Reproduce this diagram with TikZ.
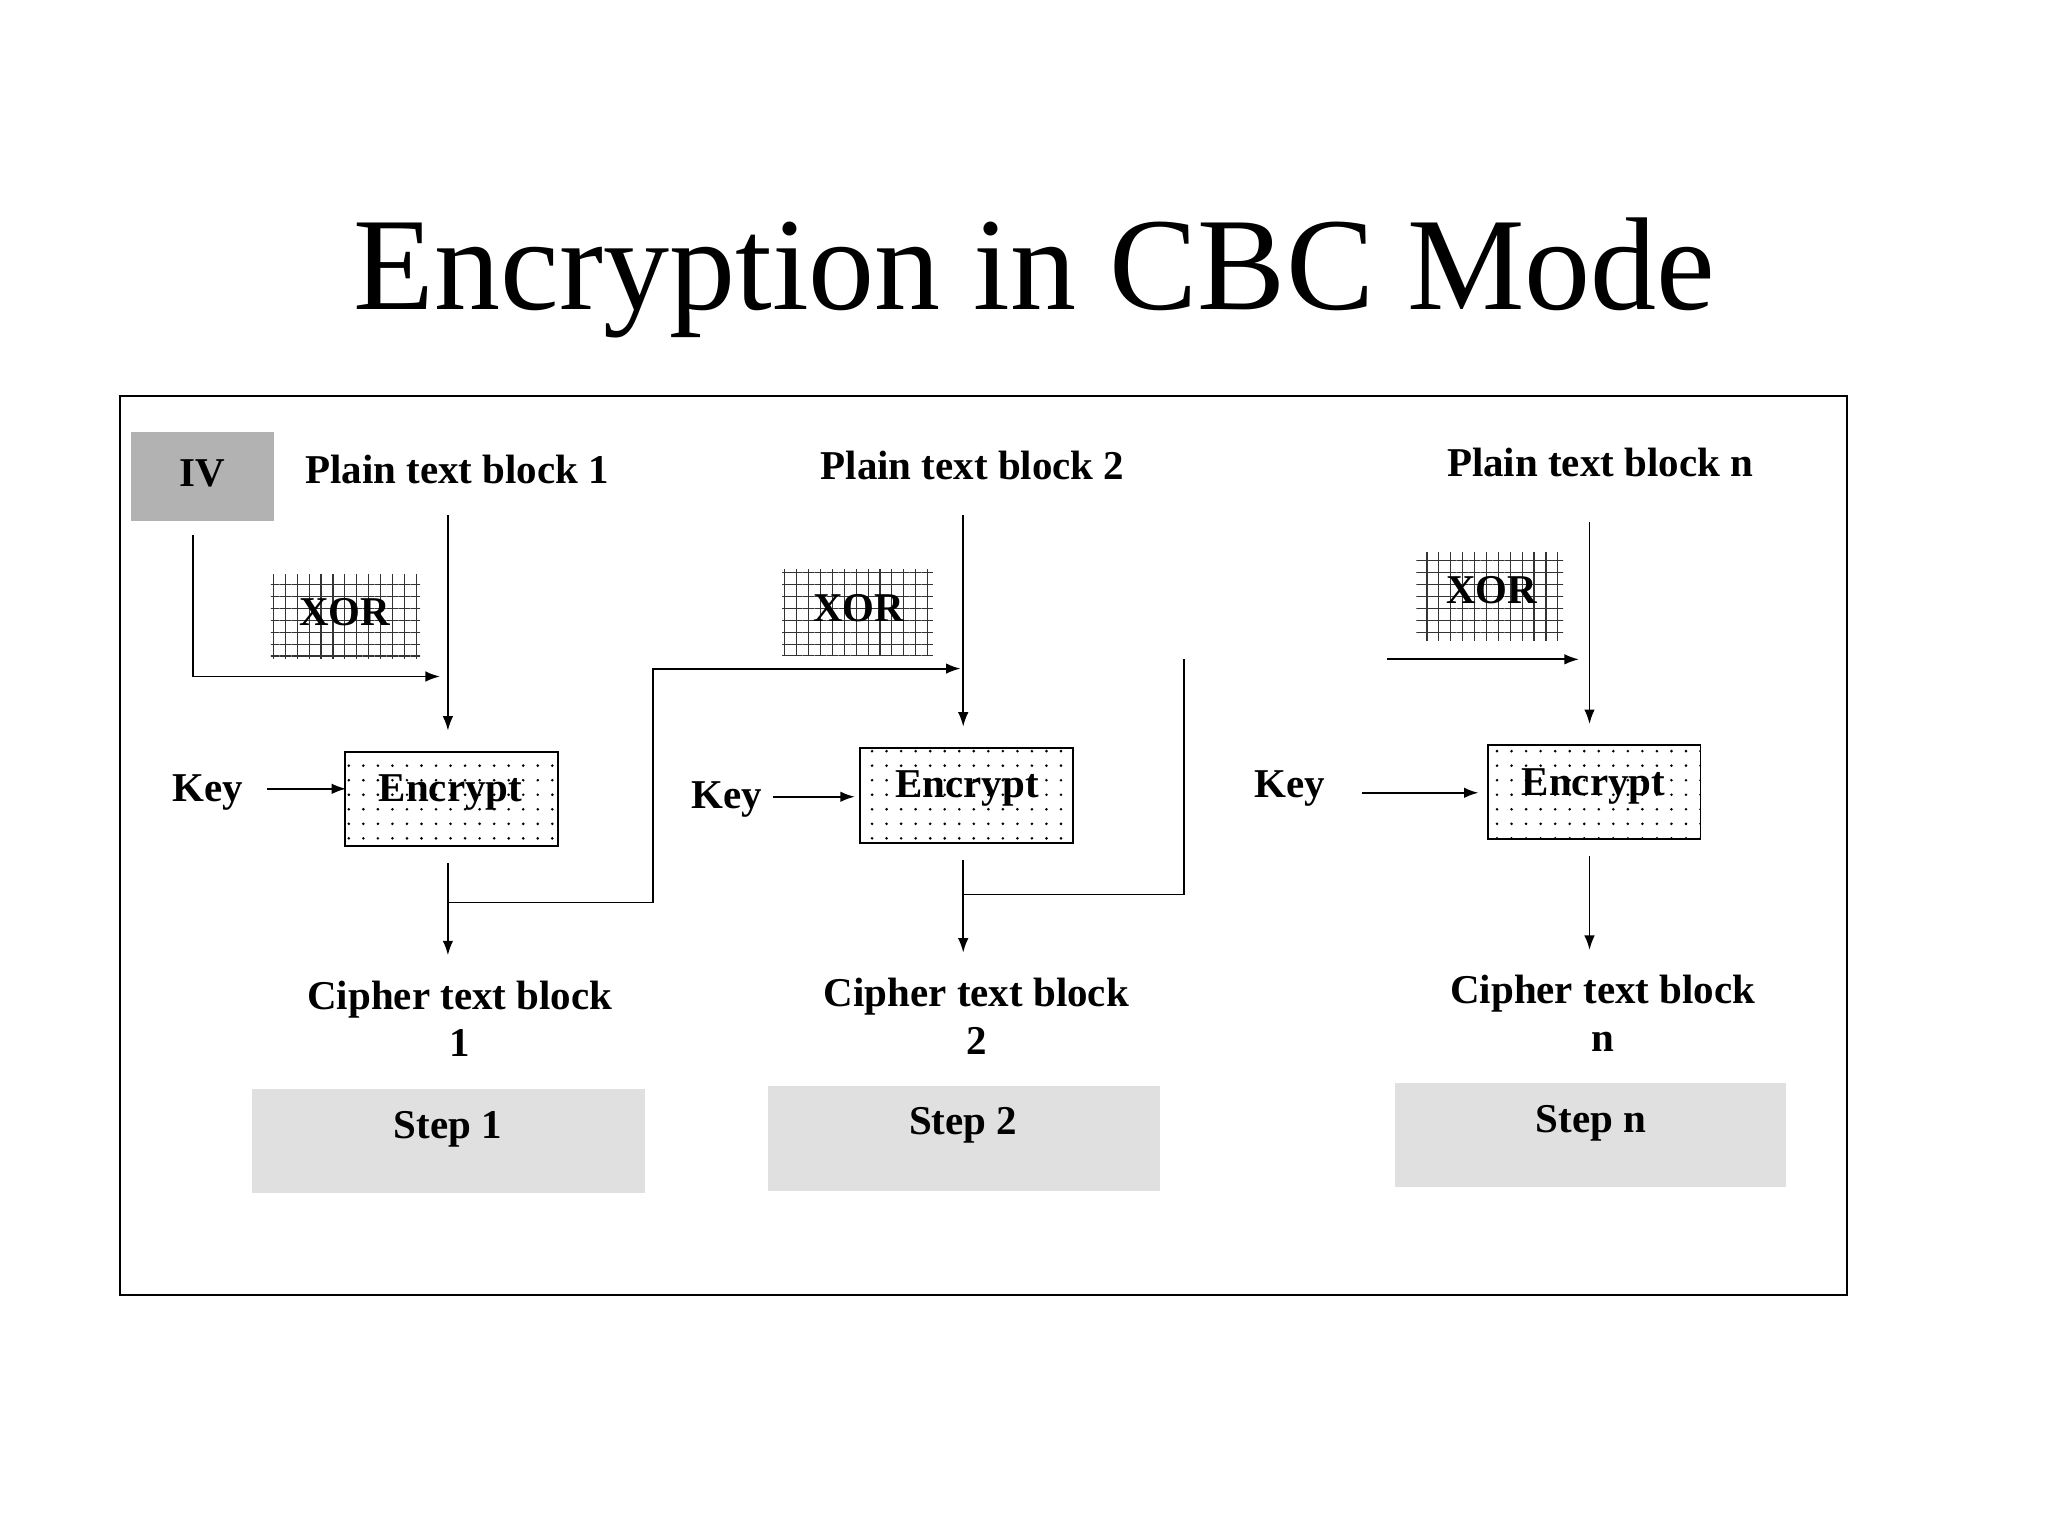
\documentclass[tikz,border=0pt]{standalone}
\usepackage{fontspec}
\setmainfont{Liberation Serif}
\usetikzlibrary{patterns.meta,arrows.meta}
\begin{document}
\begin{tikzpicture}[x=1pt,y=-1pt,
  lbl/.style={font=\fontsize{31}{36}\selectfont\bfseries,align=center},
  arr/.style={-{Latex[length=11pt,width=8pt]},line width=1.4pt},
  ln/.style={line width=1.4pt},
  xorbox/.style={draw=none,pattern={Hatch[distance=9pt,angle=0,line width=0.9pt]},pattern color=black!80},
  encbox/.style={draw,line width=1.4pt,postaction={pattern={Dots[distance=11pt,radius=1.1pt]}}},
  stepbox/.style={fill=black!12}]
\useasboundingbox (0,0) rectangle (1550,1162.5);
\node[font=\fontsize{100}{110}\selectfont] (title) at (783,210) {Encryption in CBC Mode};
\draw[line width=1.4pt] (91,300) rectangle (1398,980);
% step 1
\fill[black!30] (99,327) rectangle (207,394);
\node[lbl] (iv) at (153,358) {IV};
\node[lbl] (p1) at (346,355) {Plain text block 1};
\fill[xorbox] (205,435) rectangle (318,498);
\node[lbl] (x1) at (261,463) {XOR};
\draw[encbox] (261,569) rectangle (422,640);
\node[lbl] (e1) at (341,600) {Encrypt};
\node[lbl] (k1) at (157,600) {Key};
\coordinate (iva) at (146,405); \coordinate (ivb) at (146,512); \coordinate (ivc) at (333,512);
\draw[arr] (iva) -- (ivb) -- (ivc);
\coordinate (p1a) at (339,390); \coordinate (p1b) at (339,553);
\draw[arr] (p1a) -- (p1b);
\coordinate (k1a) at (202,597); \coordinate (k1b) at (262,597);
\draw[arr] (k1a) -- (k1b);
\coordinate (o1a) at (339,653); \coordinate (o1b) at (339,723);
\draw[arr] (o1a) -- (o1b);
\coordinate (b1a) at (339,683); \coordinate (b1b) at (494,683); \coordinate (b1c) at (494,506); \coordinate (b1d) at (727,506);
\draw[arr] (b1a) -- (b1b) -- (b1c) -- (b1d);
\node[lbl] (c1) at (348,771) {Cipher text block\\1};
\fill[stepbox] (191,824) rectangle (488,903);
\node[lbl] (s1) at (339,855) {Step 1};
% step 2
\node[lbl] (p2) at (736,352) {Plain text block 2};
\fill[xorbox] (592,431) rectangle (706,496);
\node[lbl] (x2) at (650,460) {XOR};
\draw[encbox] (651,566) rectangle (812,638);
\node[lbl] (e2) at (732,597) {Encrypt};
\node[lbl] (k2) at (550,605) {Key};
\coordinate (p2a) at (729,390); \coordinate (p2b) at (729,550);
\draw[arr] (p2a) -- (p2b);
\coordinate (k2a) at (585,603); \coordinate (k2b) at (647,603);
\draw[arr] (k2a) -- (k2b);
\coordinate (o2a) at (729,651); \coordinate (o2b) at (729,721);
\draw[arr] (o2a) -- (o2b);
\coordinate (b2a) at (729,677); \coordinate (b2b) at (896,677); \coordinate (b2c) at (896,499);
\draw[ln] (b2a) -- (b2b) -- (b2c);
\node[lbl] (c2) at (739,769) {Cipher text block\\2};
\fill[stepbox] (581,822) rectangle (878,901);
\node[lbl] (s2) at (729,852) {Step 2};
% step n
\node[lbl] (pn) at (1211,350) {Plain text block n};
\fill[xorbox] (1072,418) rectangle (1183,485);
\node[lbl] (xn) at (1129,447) {XOR};
\draw[encbox] (1126,564) rectangle (1287,635);
\node[lbl] (en) at (1206,595) {Encrypt};
\node[lbl] (kn) at (976,597) {Key};
\coordinate (xa) at (1050,499); \coordinate (xb) at (1195,499);
\draw[arr] (xa) -- (xb);
\coordinate (pna) at (1203,395); \coordinate (pnb) at (1203,548);
\draw[arr] (pna) -- (pnb);
\coordinate (kna) at (1031,600); \coordinate (knb) at (1119,600);
\draw[arr] (kna) -- (knb);
\coordinate (ona) at (1203,648); \coordinate (onb) at (1203,719);
\draw[arr] (ona) -- (onb);
\node[lbl] (cn) at (1213,767) {Cipher text block\\n};
\fill[stepbox] (1056,820) rectangle (1352,898);
\node[lbl] (sn) at (1204,850) {Step n};
\end{tikzpicture}
\end{document}
